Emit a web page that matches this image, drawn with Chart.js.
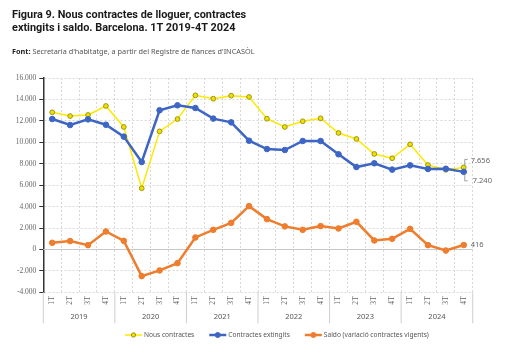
<!DOCTYPE html>
<html><head><meta charset="utf-8">
<script src="https://cdn.jsdelivr.net/npm/chart.js@4.4.1/dist/chart.umd.min.js"></script>
<style>
html,body{margin:0;padding:0;background:#fff;width:507px;height:355px;overflow:hidden}
#wrap{position:relative;width:507px;height:355px}
canvas{position:absolute;left:0;top:0}
#title{position:absolute;left:12px;top:8px;font-family:Roboto,sans-serif;font-weight:bold;font-size:10.9px;color:#1a1a1a;line-height:13px;white-space:nowrap}
#src{position:absolute;left:12px;top:46px;font-family:"Noto Sans",sans-serif;font-size:7.3px;color:#555;white-space:nowrap}
#src b{color:#222}
</style></head>
<body><div id="wrap"><canvas id="c" width="507" height="355"></canvas>
<div id="title">Figura 9. Nous contractes de lloguer, contractes<br>extingits i saldo. Barcelona. 1T 2019-4T 2024</div>
<div id="src"><b>Font:</b> Secretaria d'habitatge, a partir del Registre de fiances d'INCASÒL</div>
</div>
<script>
const years = ['2019','2020','2021','2022','2023','2024'];
const quarters = ['1T','2T','3T','4T'];
const seriesNames = ['Nous contractes','Contractes extingits','Saldo (variació contractes vigents)'];
const nous = [12800,12450,12550,13390,11430,5710,11020,12170,14380,14070,14350,14230,12200,11430,11960,12240,10870,10310,8910,8510,9810,7880,7430,7656];
const extingits = [12170,11610,12140,11640,10530,8160,12990,13450,13200,12210,11860,10150,9370,9280,10120,10120,8880,7690,8040,7450,7850,7510,7530,7240];
const saldo = [620,780,400,1680,800,-2490,-1960,-1280,1120,1830,2480,4040,2830,2150,1830,2180,1960,2580,840,990,1920,400,-100,416];
const yTicks = {min:-4000,max:16000,step:2000};

const labels = [];
years.forEach(y => quarters.forEach(q => labels.push(q)));

function fmt(v){ return String(v).replace(/\B(?=(\d{3})+(?!\d))/g,'.'); }

const yellow='#ffe800', yellowPt='#f0e000', yellowEdge='#8a8000';
const blue='#3d66c4', orange='#ee7d2e';
const gridCol='#d8d8d8', tickCol='#666';

const zeroLine = {id:'zeroLine', beforeDatasetsDraw(chart){
  const {ctx, chartArea:a, scales:{y}} = chart;
  const py = Math.round(y.getPixelForValue(0))+0.5;
  ctx.save(); ctx.strokeStyle='#c8c8c8'; ctx.lineWidth=1; ctx.setLineDash([]);
  ctx.beginPath(); ctx.moveTo(a.left,py); ctx.lineTo(a.right,py); ctx.stroke(); ctx.restore();
}};

const yearAxis = {id:'yearAxis', afterDraw(chart){
  const {ctx, chartArea:a, scales:{x}} = chart;
  const half = (x.getPixelForValue(1)-x.getPixelForValue(0))/2;
  ctx.save();
  ctx.strokeStyle='#cfcfcf'; ctx.lineWidth=1;
  for(let g=0; g<=years.length; g++){
    const px = g<years.length ? x.getPixelForValue(g*4)-half : x.getPixelForValue(g*4-1)+half;
    ctx.beginPath(); ctx.moveTo(px, a.bottom); ctx.lineTo(px, a.bottom+31); ctx.stroke();
  }
  ctx.fillStyle='#555'; ctx.font='7.5px "Noto Sans", sans-serif'; ctx.textAlign='center'; ctx.textBaseline='middle';
  years.forEach((yr,g)=>{
    const cx = (x.getPixelForValue(g*4)+x.getPixelForValue(g*4+3))/2;
    ctx.fillText(yr, cx, a.bottom+25);
  });
  ctx.restore();
}};

const endLabels = {id:'endLabels', afterDatasetsDraw(chart){
  const ctx = chart.ctx; const n = labels.length-1;
  const p0 = chart.getDatasetMeta(0).data[n];
  const p1 = chart.getDatasetMeta(1).data[n];
  const p2 = chart.getDatasetMeta(2).data[n];
  ctx.save();
  ctx.strokeStyle='#8a8a8a'; ctx.lineWidth=0.8;
  ctx.beginPath(); ctx.moveTo(p0.x+1, p0.y-2); ctx.lineTo(p0.x+1, p0.y-8); ctx.lineTo(p0.x+4, p0.y-8); ctx.stroke();
  ctx.beginPath(); ctx.moveTo(p1.x+1, p1.y+2); ctx.lineTo(p1.x+1, p1.y+9); ctx.lineTo(p1.x+4, p1.y+9); ctx.stroke();
  ctx.fillStyle='#666'; ctx.font='7.5px "Noto Sans", sans-serif'; ctx.textBaseline='middle'; ctx.textAlign='left';
  ctx.fillText(fmt(nous[n]), p0.x+7, p0.y-7);
  ctx.fillText(fmt(extingits[n]), p1.x+9, p1.y+9);
  ctx.fillText(fmt(saldo[n]), p2.x+7, p2.y);
  ctx.restore();
}};

const legendDraw = {id:'legendDraw', afterDraw(chart){
  const ctx = chart.ctx; ctx.save();
  ctx.font='6.6px "Noto Sans", sans-serif'; ctx.textBaseline='middle'; ctx.textAlign='left';
  let x = 125; const y = 335;
  const ordered = [0,1,2].map(i=>chart.data.datasets[i]);
  ordered.forEach(ds=>{
    ctx.strokeStyle = ds.borderColor; ctx.lineWidth = ds.borderWidth;
    ctx.beginPath(); ctx.moveTo(x,y); ctx.lineTo(x+17,y); ctx.stroke();
    ctx.beginPath(); ctx.arc(x+8.5,y,ds.pointRadius*0.9,0,Math.PI*2);
    ctx.fillStyle = ds.pointBackgroundColor; ctx.fill();
    ctx.lineWidth = ds.pointBorderWidth; ctx.strokeStyle = ds.pointBorderColor; ctx.stroke();
    ctx.fillStyle='#555';
    ctx.fillText(ds.label, x+19, y);
    x += 19 + ctx.measureText(ds.label).width + 15;
  });
  ctx.restore();
}};

new Chart(document.getElementById('c'), {
  type:'line',
  data:{
    labels: labels,
    datasets:[
      {label:seriesNames[0], data:nous, borderColor:yellow, borderWidth:1.5, pointRadius:2.4, pointBackgroundColor:yellowPt, pointBorderColor:yellowEdge, pointBorderWidth:0.8, order:1, tension:0},
      {label:seriesNames[1], data:extingits, borderColor:blue, borderWidth:2.5, pointRadius:2.8, pointBackgroundColor:blue, pointBorderColor:blue, pointBorderWidth:1, order:0, tension:0},
      {label:seriesNames[2], data:saldo, borderColor:orange, borderWidth:2.5, pointRadius:2.8, pointBackgroundColor:orange, pointBorderColor:orange, pointBorderWidth:1, order:2, tension:0}
    ]
  },
  options:{
    responsive:false, animation:false, devicePixelRatio:1,
    layout:{padding:{top:78,right:34.3,left:0,bottom:0}},
    plugins:{legend:{display:false}, tooltip:{enabled:false}},
    scales:{
      x:{
        offset:true,
        grid:{display:true, color:gridCol, lineWidth:1, drawTicks:false, offset:true},
        border:{display:false, dash:[2,2]},
        ticks:{autoSkip:false, maxRotation:90, minRotation:90, padding:4, color:tickCol, font:{family:'"Liberation Serif", serif', size:7.5}},
        afterFit(s){ s.height = 62.7; }
      },
      y:{
        min:yTicks.min, max:yTicks.max,
        grid:{color:gridCol, lineWidth:1, drawTicks:true, tickLength:4, tickColor:'#333'},
        border:{display:true, color:'#333', width:1.5, dash:[2,2]},
        ticks:{stepSize:yTicks.step, padding:3, color:tickCol, font:{family:'"Liberation Serif", serif', size:7.5}, callback:(v)=>fmt(v)},
        afterFit(s){ s.width = 43.3; }
      }
    }
  },
  plugins:[zeroLine, yearAxis, endLabels, legendDraw]
});
</script>
</body></html>
